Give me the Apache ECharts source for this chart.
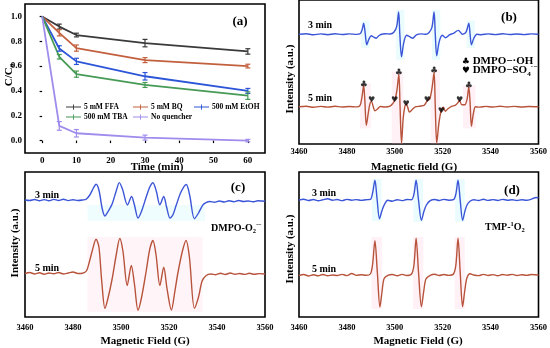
<!DOCTYPE html>
<html>
<head>
<meta charset="utf-8">
<script src="https://cdn.jsdelivr.net/npm/echarts@6/dist/echarts.min.js"></script>
<style>html,body{margin:0;padding:0;background:#fff;}#c{width:550px;height:348px;}</style>
</head>
<body>
<div id="c"></div>
<script>
// ---------- Panel (a): C/C0 vs time ----------
const times = [0, 5, 10, 30, 60];
const ffa  = [1.0, 0.918, 0.850, 0.785, 0.718];
const bq   = [1.0, 0.868, 0.745, 0.648, 0.600];
const etoh = [1.0, 0.742, 0.638, 0.518, 0.400];
const tba  = [1.0, 0.675, 0.535, 0.448, 0.362];
const noq  = [1.0, 0.118, 0.059, 0.024, 0.000];
const ffaErr  = [0, 0.020, 0.015, 0.030, 0.022];
const bqErr   = [0, 0.025, 0.025, 0.020, 0.015];
const etohErr = [0, 0.022, 0.025, 0.030, 0.020];
const tbaErr  = [0, 0.018, 0.025, 0.020, 0.030];
const noqErr  = [0, 0.035, 0.030, 0.020, 0.010];
const seriesNames = ['5 mM FFA', '5 mM BQ', '500 mM EtOH', '500 mM TBA', 'No quencher'];
const timeTicks = [0, 10, 20, 30, 40, 50, 60];
const ccTicks = [0, 0.2, 0.4, 0.6, 0.8, 1.0];

// ---------- Panel (b): DMPO spectra (field G, intensity a.u.) ----------
const b3min = [[3460,112],[3463,112.6],[3466,111.5],[3469,112.4],[3472,111.6],[3475,112.5],[3478,111.8],[3481,112.4],[3484,111.9],[3485.6,112.8],[3486.4,117],[3487.0,123.3],[3487.6,114],[3488.3,101.3],[3489.2,107],[3490.2,110.5],[3491.2,109],[3492.2,108],[3493.3,110.5],[3494.5,112],[3496,112.6],[3498,112.3],[3499.6,114],[3500.8,120],[3501.6,134.7],[3502.1,112],[3502.8,89],[3503.7,103],[3504.9,111],[3506.2,109.5],[3507.5,108],[3509,111.5],[3511,112.4],[3513,112],[3514.3,113.8],[3515.5,119],[3516.4,134.7],[3516.9,112],[3517.5,90],[3518.5,104],[3519.8,111],[3521.2,108.5],[3522.8,111.5],[3524.5,113],[3526.5,116],[3528.3,112],[3529.8,114.5],[3530.9,123.3],[3531.4,113],[3532.0,101.3],[3533.0,108],[3534.3,112],[3536,111.6],[3539,112.4],[3542,111.7],[3545,112.5],[3548,111.8],[3551,112.3],[3554,111.7],[3557,112.4],[3560,112]];
const b5min = [[3460,38],[3463,38.6],[3466,37.5],[3469,38.4],[3472,37.6],[3475,38.5],[3478,37.8],[3481,38.3],[3484,37.9],[3485.5,39.5],[3486.3,48],[3487.0,59.7],[3487.5,44],[3488.1,19],[3488.9,31],[3489.6,41],[3490.3,43.5],[3491.0,38],[3491.7,34],[3492.7,35.5],[3494,38.3],[3496,37.8],[3498,38.6],[3499.2,41.5],[3500.0,44.5],[3500.9,55],[3501.7,71.3],[3502.2,38],[3502.8,1],[3503.5,26],[3504.2,38.5],[3504.8,41],[3505.4,37.5],[3506.1,32.5],[3507.2,35],[3508.6,38],[3510.5,38.6],[3512.3,39.5],[3513.6,44.5],[3514.6,46],[3515.6,58],[3516.4,73.3],[3516.9,38],[3517.5,1],[3518.4,21],[3519.4,34.5],[3520.3,37.5],[3521.1,33.5],[3522.2,36],[3523.7,38.5],[3525.2,39.5],[3526.3,42],[3527.0,44.5],[3528.0,40],[3529.2,40],[3530.2,46],[3530.9,58.3],[3531.4,44],[3532.0,18],[3532.8,31],[3533.7,38],[3535.5,37.6],[3538,38.4],[3541,37.7],[3544,38.5],[3547,37.8],[3550,38.4],[3553,37.7],[3556,38.3],[3560,38]];
const ohMarks  = [[3487.0,61],[3501.7,72.5],[3516.4,74.5],[3530.9,59.5]];
const so4Marks = [[3490.3,45],[3499.9,45.3],[3504.7,41.3],[3513.6,45.3],[3519.4,34],[3527.0,45]];

// ---------- Panel (c): DMPO-O2 spectra ----------
const c3min = [[3460,117],[3462,116.5],[3464,117.5],[3466,116.3],[3468,117.4],[3470,116.2],[3472,117.6],[3474,116.5],[3476,117.8],[3478,116.4],[3480,117.3],[3482,116.5],[3484,117],[3485.5,117.8],[3487,122],[3488.5,129],[3489.6,132.8],[3490.8,127],[3492.2,108],[3493.3,101],[3494.5,105],[3496.3,113],[3498,126],[3499.3,134.4],[3500.6,128],[3502.7,112],[3504.4,120.5],[3505.6,112],[3507.1,99],[3508.6,106],[3510.5,120],[3512,130],[3513.3,134.3],[3514.7,126],[3516.2,112.3],[3517.8,120.5],[3519,110],[3520.4,99],[3521.6,102],[3523,111.7],[3525,125],[3527.2,132.5],[3528.6,122],[3530.6,98.3],[3532.3,104],[3534,111.7],[3535.4,114.3],[3537,115.5],[3539,114.8],[3541,116],[3543,115],[3545,116.2],[3547,115.3],[3549,116.5],[3551,115.5],[3553,116],[3555,115.2],[3557,116.2],[3560,115.8]];
const c5min = [[3460,43.5],[3462,44.5],[3464,43],[3466,44.2],[3468,42.8],[3470,44],[3472,43.2],[3474,44.5],[3476,43],[3478,44],[3480,45],[3482,43.5],[3484,43.8],[3485.6,46],[3486.8,55],[3488,66],[3489.6,77.7],[3490.8,70],[3492,35],[3493.3,8.8],[3494.5,18],[3496.3,38],[3498,62],[3499.5,78.5],[3500.8,66],[3502.6,31.5],[3504.3,51.5],[3505.6,33],[3507.1,6.8],[3508.6,20],[3510.5,46],[3512,68],[3513.3,76.5],[3514.6,62],[3516.2,31.5],[3517.8,49.7],[3519.2,28],[3521,7],[3522.4,25],[3523.7,44],[3525.5,65],[3527.1,76.5],[3528.5,60],[3530.6,8.7],[3532.3,20],[3533.8,36],[3535.5,41.5],[3537.5,43],[3539.5,42.3],[3541.5,43.8],[3543.5,42.5],[3545.5,44],[3547.5,42.8],[3549.5,43.5],[3551.5,42.6],[3553.5,43.8],[3555.5,42.7],[3557.5,43.4],[3560,43]];

// ---------- Panel (d): TMP-1O2 spectra ----------
const d3min = [[3460,117],[3462,117.8],[3464,116.5],[3466,117.5],[3468,116.3],[3470,117.2],[3472,118.2],[3474,116.8],[3476,117.5],[3478,116.4],[3480,117.6],[3482,116.8],[3484,117.4],[3486,116.6],[3488,117.3],[3489.8,117.6],[3490.8,125],[3491.7,136.7],[3492.6,118],[3493.6,98.3],[3494.6,106],[3495.5,111.7],[3497.1,116.7],[3499,115.8],[3501,117.3],[3503,116.4],[3505,117.5],[3507,117.2],[3508,123],[3508.9,136.7],[3509.9,117],[3511.1,96.7],[3512.2,106],[3513.2,112],[3514.8,116.3],[3516.7,117.5],[3518.5,116.5],[3520.5,117.6],[3522.5,116.8],[3524.5,117.3],[3525.5,123],[3526.4,136.7],[3527.3,117],[3528.3,96.7],[3529.3,106],[3530.1,111.7],[3531.4,115.7],[3533,117.3],[3535,116.5],[3537,117.8],[3539,116.6],[3541,117.4],[3543,116.5],[3545,117.6],[3547,116.8],[3549,117.3],[3551,116.5],[3553,117.2],[3555,116.8],[3557,117.8],[3559,119.5],[3560,119]];
const d5min = [[3460,41.5],[3462,42.5],[3464,41],[3466,42.3],[3468,41.2],[3470,42.5],[3472,41.3],[3474,42],[3476,41.5],[3478,42.6],[3480,41.4],[3482,43.5],[3484,41.6],[3486,42.3],[3488,41.8],[3489.8,43],[3490.7,52],[3491.7,76.3],[3492.7,45],[3493.8,10],[3494.7,26],[3495.5,38.3],[3497.1,41.7],[3499,42.5],[3501,41.3],[3503,42.6],[3505,41.5],[3507,43],[3508,52],[3508.9,78.7],[3509.9,45],[3511.1,10.3],[3512.1,26],[3513,38],[3514.8,41.7],[3516.7,42.8],[3518.5,41.5],[3520.5,42.5],[3522.5,41.6],[3524.5,43],[3525.5,52],[3526.4,78.7],[3527.3,45],[3528.3,10.3],[3529.2,26],[3530.1,39],[3531.4,43.3],[3533,42],[3535,41.4],[3537,42.6],[3539,41.5],[3541,42.4],[3543,41.3],[3545,42.5],[3547,41.8],[3549,42.6],[3551,41.5],[3553,42.3],[3555,41.6],[3557,42.5],[3560,42]];

// ---------- build ----------
const SERIF = '"Liberation Serif","Times New Roman",serif';
const colorsA = ['#3a3a3a', '#c2603e', '#2c55d8', '#469a55', '#a08cec'];
const BLUE = '#3b55d8', RED = '#b8533b';
const valsA = [ffa, bq, etoh, tba, noq];
const errsA = [ffaErr, bqErr, etohErr, tbaErr, noqErr];

const chart = echarts.init(document.getElementById('c'), null, {renderer: 'canvas'});

function specXAxis(gi, margin) {
  return {
    type: 'value', gridIndex: gi, min: 3460, max: 3560, interval: 20,
    axisLine: {show: false}, axisTick: {show: false}, splitLine: {show: false},
    axisLabel: {formatter: v => String(v), fontFamily: SERIF, fontWeight: 'bold', fontSize: 8.5, color: '#000', margin: margin}
  };
}
function specYAxis(gi, max) {
  return {type: 'value', gridIndex: gi, min: 0, max: max, show: true,
    axisLine: {show: false}, axisTick: {show: false}, axisLabel: {show: false}, splitLine: {show: false}};
}
function specLine(data, xi, color, name) {
  return {type: 'line', name: name, xAxisIndex: xi, yAxisIndex: xi, data: data, symbol: 'none',
    smooth: 0.3, lineStyle: {color: color, width: 1.4}, z: 3};
}

const series = [];
valsA.forEach((v, i) => {
  series.push({type: 'line', name: seriesNames[i], xAxisIndex: 0, yAxisIndex: 0,
    data: times.map((t, k) => [t, v[k]]), symbol: 'none', color: colorsA[i],
    lineStyle: {color: colorsA[i], width: 1.8}, z: 3});
  series.push({type: 'custom', name: seriesNames[i] + ' err', xAxisIndex: 0, yAxisIndex: 0,
    data: times.map((t, k) => [t, v[k], errsA[i][k]]), z: 4,
    renderItem: function (params, api) {
      const x = api.value(0), y = api.value(1), e = api.value(2);
      if (!e) return null;
      const p1 = api.coord([x, y + e]), p2 = api.coord([x, y - e]);
      const st = {stroke: colorsA[i], lineWidth: 1.2};
      return {type: 'group', children: [
        {type: 'line', shape: {x1: p1[0], y1: p1[1], x2: p2[0], y2: p2[1]}, style: st},
        {type: 'line', shape: {x1: p1[0] - 2.5, y1: p1[1], x2: p1[0] + 2.5, y2: p1[1]}, style: st},
        {type: 'line', shape: {x1: p2[0] - 2.5, y1: p2[1], x2: p2[0] + 2.5, y2: p2[1]}, style: st}
      ]};
    }});
});

const pinkA = 'rgba(255,185,210,0.2)', cyanA = 'rgba(150,238,250,0.2)';
const sb3 = specLine(b3min, 1, BLUE, 'b3');
sb3.markArea = {silent: true, itemStyle: {color: cyanA}, data: [
  [{coord: [3486, 98]}, {coord: [3489.5, 126]}],
  [{coord: [3500.5, 86]}, {coord: [3504, 137]}],
  [{coord: [3515.5, 86]}, {coord: [3519, 137]}],
  [{coord: [3530, 98]}, {coord: [3533.5, 126]}]]};
const sb5 = specLine(b5min, 1, RED, 'b5');
sb5.markArea = {silent: true, itemStyle: {color: pinkA}, data: [
  [{coord: [3485.5, 16]}, {coord: [3490, 62]}],
  [{coord: [3498.7, 0]}, {coord: [3503.5, 74]}],
  [{coord: [3515, 0]}, {coord: [3518.8, 76]}],
  [{coord: [3528.5, 16]}, {coord: [3533.7, 60]}]]};
series.push(sb3, sb5);
series.push({type: 'scatter', xAxisIndex: 1, yAxisIndex: 1, data: ohMarks, symbolSize: 0, z: 5,
  label: {show: true, position: 'inside', formatter: '\u2663', fontSize: 9, color: '#000', fontFamily: 'DejaVu Sans'}});
series.push({type: 'scatter', xAxisIndex: 1, yAxisIndex: 1, data: so4Marks, symbolSize: 0, z: 5,
  label: {show: true, position: 'inside', formatter: '\u2665', fontSize: 8, color: '#000', fontFamily: 'DejaVu Sans'}});

const sc3 = specLine(c3min, 2, BLUE, 'c3');
sc3.markArea = {silent: true, itemStyle: {color: 'rgba(150,238,250,0.14)'}, data: [[{coord: [3486, 96]}, {coord: [3535, 112]}]]};
const sc5 = specLine(c5min, 2, RED, 'c5');
sc5.markArea = {silent: true, itemStyle: {color: 'rgba(255,185,210,0.14)'}, data: [[{coord: [3486, 5]}, {coord: [3534, 80]}]]};
series.push(sc3, sc5);

const sd3 = specLine(d3min, 3, BLUE, 'd3');
sd3.markArea = {silent: true, itemStyle: {color: cyanA}, data: [
  [{coord: [3490.5, 96]}, {coord: [3494.5, 138]}],
  [{coord: [3507.8, 95]}, {coord: [3511.8, 138]}],
  [{coord: [3525.2, 95]}, {coord: [3529.2, 138]}]]};
const sd5 = specLine(d5min, 3, RED, 'd5');
sd5.markArea = {silent: true, itemStyle: {color: pinkA}, data: [
  [{coord: [3490.3, 8]}, {coord: [3494.6, 80]}],
  [{coord: [3507.6, 8]}, {coord: [3511.9, 80]}],
  [{coord: [3525, 8]}, {coord: [3529.2, 80]}]]};
series.push(sd5, sd3);

const LEG_ICON = 'path://M0,3.4h20v1.2H0z M9.4,0.5h1.2v7h-1.2z';
function legendAt(name, left, top) {
  return {data: [{name: name, icon: LEG_ICON}], left: left, top: top, padding: 0, itemWidth: 15, itemHeight: 8, itemGap: 3,
    textStyle: {fontFamily: SERIF, fontWeight: 'bold', fontSize: 7.5, color: '#000', padding: [0, 0, 0, -2]}};
}

function txt(x, y, text, size, opts) {
  opts = opts || {};
  return {type: 'text', x: x, y: y, rotation: opts.rot || 0, z: 10,
    style: {text: text, fill: '#000', font: 'bold ' + size + 'px ' + SERIF,
      align: opts.align || 'left', verticalAlign: 'middle', rich: opts.rich}};
}
function richOf(size) {
  return {
    b: {fontFamily: SERIF, fontWeight: 'bold', fontSize: size, lineHeight: size + 3},
    sub: {fontFamily: SERIF, fontWeight: 'bold', fontSize: size * 0.65, verticalAlign: 'bottom', lineHeight: size + 3, padding: [size * 0.5, 0, 0, 0]},
    sup: {fontFamily: SERIF, fontWeight: 'bold', fontSize: size * 0.65, verticalAlign: 'top', lineHeight: size + 3, padding: [0, 0, size * 0.45, 0]},
    s: {fontFamily: 'DejaVu Sans', fontSize: size * 0.8, lineHeight: size + 3}
  };
}

const option = {
  animation: false,
  backgroundColor: '#fff',
  grid: [
    {left: 25, top: 4, width: 240, height: 149, show: true, borderColor: '#000', borderWidth: 1.6},
    {left: 299, top: -3, width: 240, height: 147, show: true, borderColor: '#000', borderWidth: 1.6},
    {left: 25, top: 172, width: 240, height: 145, show: true, borderColor: '#000', borderWidth: 1.6},
    {left: 299, top: 172, width: 240, height: 145, show: true, borderColor: '#000', borderWidth: 1.6}
  ],
  xAxis: [
    {type: 'value', gridIndex: 0, min: -5, max: 65, splitLine: {show: false}, axisLine: {show: false},
      axisTick: {show: true, inside: false, length: 2.5, customValues: timeTicks, lineStyle: {color: '#000', width: 1.2}},
      axisLabel: {customValues: timeTicks, fontFamily: SERIF, fontWeight: 'bold', fontSize: 9, color: '#000', margin: 3}},
    specXAxis(1, 3), specXAxis(2, 6), specXAxis(3, 6)
  ],
  yAxis: [
    {type: 'value', gridIndex: 0, min: -0.1, max: 1.1, splitLine: {show: false}, axisLine: {show: false},
      axisTick: {show: true, inside: false, length: 2.5, customValues: ccTicks, lineStyle: {color: '#000', width: 1.2}},
      axisLabel: {customValues: ccTicks, formatter: v => v.toFixed(1), fontFamily: SERIF, fontWeight: 'bold', fontSize: 9, color: '#000', margin: 3}},
    specYAxis(1, 147), specYAxis(2, 145), specYAxis(3, 145)
  ],
  legend: [
    legendAt(seriesNames[0], 66, 103),
    legendAt(seriesNames[1], 133, 103),
    legendAt(seriesNames[2], 194, 103),
    legendAt(seriesNames[3], 66, 113),
    legendAt(seriesNames[4], 133, 113)
  ],
  series: series,
  graphic: [
    txt(240, 22, '(a)', 13, {align: 'center'}),
    txt(157, 167, 'Time (min)', 11, {align: 'center'}),
    txt(9, 75, '{b|C/C}{sub|0}', 11, {align: 'center', rot: Math.PI / 2, rich: richOf(11)}),
    txt(509, 18, '(b)', 13, {align: 'center'}),
    txt(308, 25, '3 min', 10),
    txt(308, 98, '5 min', 10),
    txt(414, 167, 'Magnetic field (G)', 11, {align: 'center'}),
    txt(290, 79, 'Intensity (a.u.)', 11, {align: 'center', rot: Math.PI / 2}),
    txt(462, 61.5, '{s|\u2663} {b|DMPO\u2212\u00b7OH}', 11, {rich: richOf(11)}),
    txt(462, 70.5, '{s|\u2665} {b|DMPO\u2212SO}{sub|4}{sup|\u00b7\u2212}', 11, {rich: richOf(11)}),
    txt(238, 188, '(c)', 13, {align: 'center'}),
    txt(35, 195, '3 min', 10),
    txt(35, 268, '5 min', 10),
    txt(211, 228, '{b|DMPO-O}{sub|2}{sup|\u00b7\u2212}', 10, {rich: richOf(10)}),
    txt(145, 341, 'Magnetic Field (G)', 11, {align: 'center'}),
    txt(15, 243, 'Intensity (a.u.)', 11, {align: 'center', rot: Math.PI / 2}),
    txt(512, 191, '(d)', 13, {align: 'center'}),
    txt(312, 193, '3 min', 10),
    txt(312, 269, '5 min', 10),
    txt(485, 227, '{b|TMP-}{sup|1}{b|O}{sub|2}', 10, {rich: richOf(10)}),
    txt(418, 341, 'Magnetic Field (G)', 11, {align: 'center'}),
    txt(290, 249, 'Intensity (a.u.)', 11, {align: 'center', rot: Math.PI / 2})
  ]
};
chart.setOption(option);
</script>
</body>
</html>
